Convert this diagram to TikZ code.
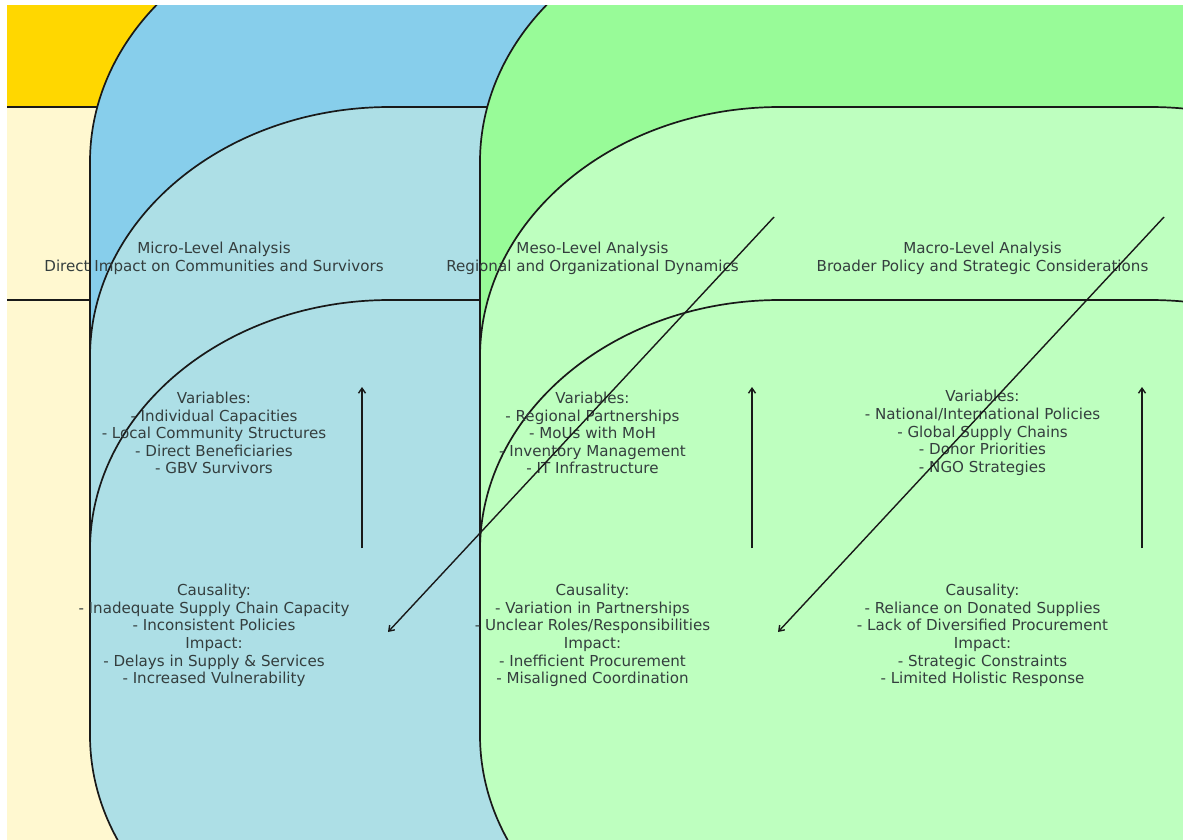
\documentclass[tikz,border=0pt]{standalone}
\usepackage{fontspec}
\setmainfont{DejaVu Sans}
\usetikzlibrary{arrows.meta}

\definecolor{microhead}{HTML}{FFD700}
\definecolor{microbox}{HTML}{FFF8D0}
\definecolor{mesohead}{HTML}{87CEEB}
\definecolor{mesobox}{HTML}{ADDFE6}
\definecolor{macrohead}{HTML}{98FB98}
\definecolor{macrobox}{HTML}{BEFFBF}
\definecolor{lvlink}{HTML}{343E3E}

% corner radii of the boxes and the Bezier handle lengths for a quarter ellipse
\def\rx{300}\def\ry{250}
\def\kx{165.7}\def\ky{138.1}

% rounded panel: left, top, width, height, fill colour
\newcommand\levelpanel[5]{%
  \pgfmathsetmacro\bxl{#1}\pgfmathsetmacro\bxt{#2}%
  \pgfmathsetmacro\bxr{#1+#3}\pgfmathsetmacro\bxb{#2+#4}%
  \draw[panelline, fill=#5]
    (\bxl+\rx, \bxt) -- (\bxr-\rx, \bxt)
    .. controls (\bxr-\rx+\kx, \bxt) and (\bxr, \bxt+\ry-\ky) .. (\bxr, \bxt+\ry)
    -- (\bxr, \bxb-\ry)
    .. controls (\bxr, \bxb-\ry+\ky) and (\bxr-\rx+\kx, \bxb) .. (\bxr-\rx, \bxb)
    -- (\bxl+\rx, \bxb)
    .. controls (\bxl+\rx-\kx, \bxb) and (\bxl, \bxb-\ry+\ky) .. (\bxl, \bxb-\ry)
    -- (\bxl, \bxt+\ry)
    .. controls (\bxl, \bxt+\ry-\ky) and (\bxl+\rx-\kx, \bxt) .. (\bxl+\rx, \bxt)
    -- cycle;}

\begin{document}
\begin{tikzpicture}[x=1pt, y=-1pt,
  panelline/.style={draw=black!90, line width=1.7pt},
  lvltext/.style={align=center, text=lvlink, inner sep=0pt,
    font=\fontsize{15.1}{17.6}\selectfont},
  flow/.style={draw=black!90, line width=1.4pt,
    -{Straight Barb[length=5pt,width=7pt]}}]

\fill[white] (0,0) rectangle (1183,840);
\useasboundingbox (0,0) rectangle (1183,840);

\begin{scope}
  \clip (7,6) rectangle (1183,840);
  % micro column
  \levelpanel{-288}{-88}{970}{685}{microhead}
  \levelpanel{-288}{107}{970}{685}{microbox}
  \levelpanel{-288}{300}{970}{685}{microbox}
  % meso column
  \levelpanel{90}{-88}{970}{685}{mesohead}
  \levelpanel{90}{107}{970}{685}{mesobox}
  \levelpanel{90}{300}{970}{685}{mesobox}
  % macro column
  \levelpanel{480}{-88}{970}{685}{macrohead}
  \levelpanel{480}{107}{970}{685}{macrobox}
  \levelpanel{480}{300}{970}{685}{macrobox}
\end{scope}

% headings
\node[lvltext] (microtitle) at (214,258.5)
  {Micro-Level Analysis\\Direct Impact on Communities and Survivors};
\node[lvltext] (mesotitle) at (592.5,258.5)
  {Meso-Level Analysis\\Regional and Organizational Dynamics};
\node[lvltext] (macrotitle) at (982.5,258.5)
  {Macro-Level Analysis\\Broader Policy and Strategic Considerations};

% variables
\node[lvltext] (microvars) at (214,433)
  {Variables:\\- Individual Capacities\\- Local Community Structures\\- Direct Beneficiaries\\- GBV Survivors};
\node[lvltext] (mesovars) at (592.5,433)
  {Variables:\\- Regional Partnerships\\- MoUs with MoH\\- Inventory Management\\- IT Infrastructure};
\node[lvltext] (macrovars) at (982.5,433)
  {Variables:\\- National/International Policies\\- Global Supply Chains\\- Donor Priorities\\- NGO Strategies};

% causality and impact
\node[lvltext] (microcause) at (214,635.5)
  {Causality:\\- Inadequate Supply Chain Capacity\\- Inconsistent Policies\\Impact:\\- Delays in Supply \& Services\\- Increased Vulnerability};
\node[lvltext] (mesocause) at (592.5,635.5)
  {Causality:\\- Variation in Partnerships\\- Unclear Roles/Responsibilities\\Impact:\\- Inefficient Procurement\\- Misaligned Coordination};
\node[lvltext] (macrocause) at (982.5,635.5)
  {Causality:\\- Reliance on Donated Supplies\\- Lack of Diversified Procurement\\Impact:\\- Strategic Constraints\\- Limited Holistic Response};

% arrow end points
\coordinate (microup0) at (362,548);  \coordinate (microup1) at (362,387);
\coordinate (mesoup0) at (752,548);   \coordinate (mesoup1) at (752,387);
\coordinate (macroup0) at (1142,548); \coordinate (macroup1) at (1142,387);
\coordinate (mesofrom) at (774,217);  \coordinate (microto) at (388,632);
\coordinate (macrofrom) at (1164,217);\coordinate (mesoto) at (778,632);

\draw[flow] (microup0) -- (microup1);
\draw[flow] (mesoup0) -- (mesoup1);
\draw[flow] (macroup0) -- (macroup1);
\draw[flow] (mesofrom) -- (microto);
\draw[flow] (macrofrom) -- (mesoto);
\end{tikzpicture}
\end{document}
